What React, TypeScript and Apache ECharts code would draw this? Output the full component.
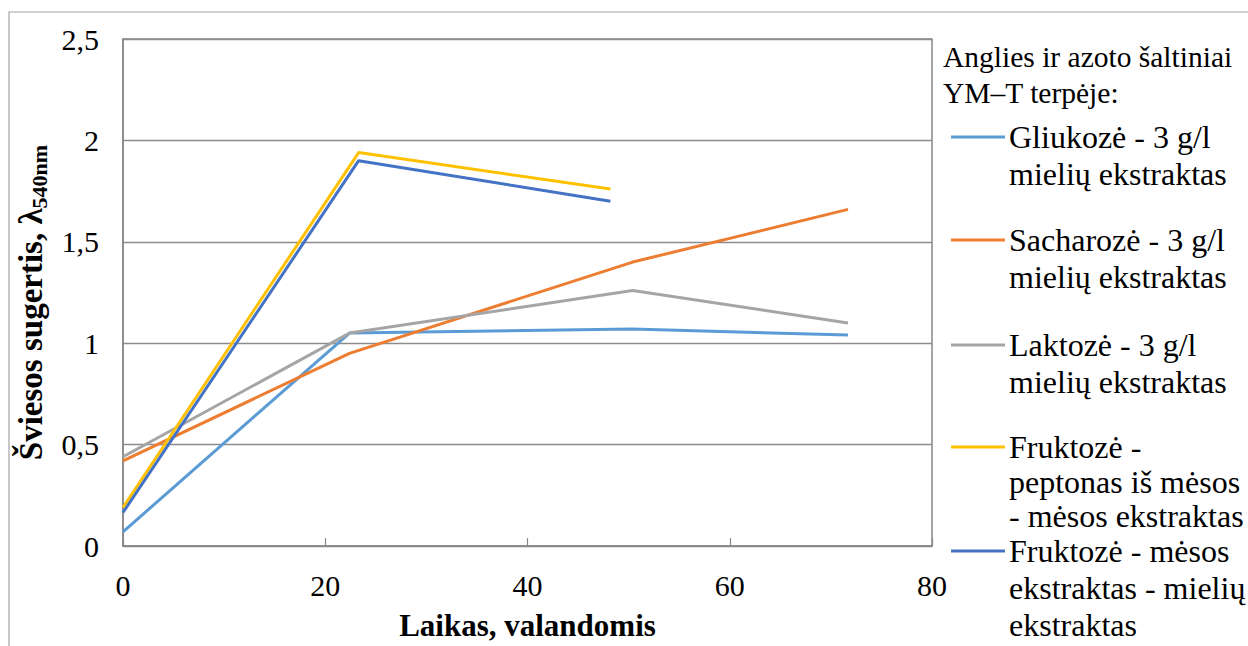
import React, { useEffect, useRef } from "react";
import * as echarts from "echarts";

// Sampling times (hours) for the two groups of cultures
const timeGroupA = [0, 22.4, 50.4, 71.7];
const timeGroupB = [0, 23.3, 48.2];

// Absorbance at 540 nm
const gliukoze = [0.07, 1.05, 1.07, 1.04];
const sacharoze = [0.42, 0.95, 1.4, 1.66];
const laktoze = [0.44, 1.05, 1.26, 1.1];
const fruktozePeptonas = [0.19, 1.94, 1.76];
const fruktozeMesos = [0.165, 1.9, 1.7];

const seriesNames = [
  "Gliukozė - 3 g/l\nmielių ekstraktas",
  "Sacharozė - 3 g/l\nmielių ekstraktas",
  "Laktozė - 3 g/l\nmielių ekstraktas",
  "Fruktozė -\npeptonas iš mėsos\n- mėsos ekstraktas",
  "Fruktozė - mėsos\nekstraktas - mielių\nekstraktas",
];
const seriesColors = ["#5B9BD5", "#ED7D31", "#A5A5A5", "#FFC000", "#4472C4"];

const legendTitle = "Anglies ir azoto šaltiniai\nYM–T terpėje:";
const xTitle = "Laikas, valandomis";

const SERIF = "'Liberation Serif', 'Times New Roman', serif";

const pairs = (xs: number[], ys: number[]) => ys.map((y, i) => [xs[i], y]);

export default function App() {
  const ref = useRef<HTMLDivElement>(null);

  useEffect(() => {
    if (!ref.current) return;
    const chart = echarts.init(ref.current, undefined, { renderer: "svg" });

    const seriesData = [
      pairs(timeGroupA, gliukoze),
      pairs(timeGroupA, sacharoze),
      pairs(timeGroupA, laktoze),
      pairs(timeGroupB, fruktozePeptonas),
      pairs(timeGroupB, fruktozeMesos),
    ];

    // One legend block per series so each icon sits beside the first line of its label
    const iconY = [137, 240, 345, 447, 551];
    const lineHeights = [37, 37, 37, 34.5, 37];
    const legends = seriesNames.map((name, i) => {
      const lines = name.split("\n").length;
      const total = lines * 2 - 1;
      const lh = lineHeights[i];
      return {
        data: [name],
        left: 951,
        top: iconY[i] - (total * lh) / 2,
        padding: 0,
        itemWidth: 54,
        itemHeight: 3,
        icon: "rect",
        formatter: (n: string) => "\n".repeat(lines - 1) + n,
        textStyle: {
          fontFamily: SERIF,
          fontSize: 32,
          lineHeight: lh,
          color: "#000",
          padding: [0, 0, 0, -1],
        },
      };
    });

    chart.setOption({
      animation: false,
      backgroundColor: "#fff",
      grid: {
        left: 123,
        top: 39,
        width: 809,
        height: 510,
        show: true,
        borderColor: "#878787",
        borderWidth: 1.5,
      },
      legend: legends,
      xAxis: {
        type: "value",
        min: 0,
        max: 80,
        interval: 20,
        name: xTitle,
        nameLocation: "middle",
        nameGap: 64,
        nameTextStyle: {
          fontFamily: SERIF,
          fontSize: 31,
          fontWeight: "bold",
          color: "#000",
        },
        axisLine: { show: true, lineStyle: { color: "#878787", width: 1.5 } },
        axisTick: { show: true, inside: true, length: 8, lineStyle: { color: "#878787", width: 1.2 } },
        axisLabel: { fontFamily: SERIF, fontSize: 30, color: "#000", margin: 24 },
        splitLine: { show: false },
      },
      yAxis: {
        type: "value",
        min: 0,
        max: 2.5,
        interval: 0.5,
        name: "{a|Šviesos sugertis, λ}{b|540nm}",
        nameLocation: "middle",
        nameGap: 70,
        nameRotate: 90,
        nameTextStyle: {
          padding: [0, 20, 0, 0],
          rich: {
            a: { fontFamily: SERIF, fontSize: 33, fontWeight: "bold", color: "#000", lineHeight: 40 },
            b: {
              fontFamily: SERIF,
              fontSize: 22,
              fontWeight: "bold",
              color: "#000",
              lineHeight: 24,
              verticalAlign: "bottom",
            },
          },
        },
        axisLine: { show: true, lineStyle: { color: "#878787", width: 1.5 } },
        axisTick: { show: false },
        axisLabel: {
          fontFamily: SERIF,
          fontSize: 30,
          color: "#000",
          margin: 24,
          formatter: (v: number) => String(v).replace(".", ","),
        },
        splitLine: { show: true, lineStyle: { color: "#8c8c8c", width: 1.3 } },
      },
      series: seriesData.map((data, i) => ({
        name: seriesNames[i],
        type: "line",
        data,
        color: seriesColors[i],
        showSymbol: false,
        symbol: "none",
        lineStyle: { width: 3, color: seriesColors[i] },
      })),
      graphic: [
        {
          type: "rect",
          shape: { x: 9, y: 12, width: 1400, height: 800 },
          style: { fill: "none", stroke: "#a3a3a3", lineWidth: 1.2 },
          silent: true,
        },
        {
          type: "text",
          x: 943,
          y: 39,
          style: {
            text: legendTitle,
            fontFamily: SERIF,
            fontSize: 29.5,
            lineHeight: 36,
            fill: "#000",
            verticalAlign: "top",
          },
        },
      ],
    });

    return () => chart.dispose();
  }, []);

  return (
    <div
      ref={ref}
      style={{ position: "fixed", left: 0, top: 0, width: 1248, height: 646 }}
    />
  );
}
